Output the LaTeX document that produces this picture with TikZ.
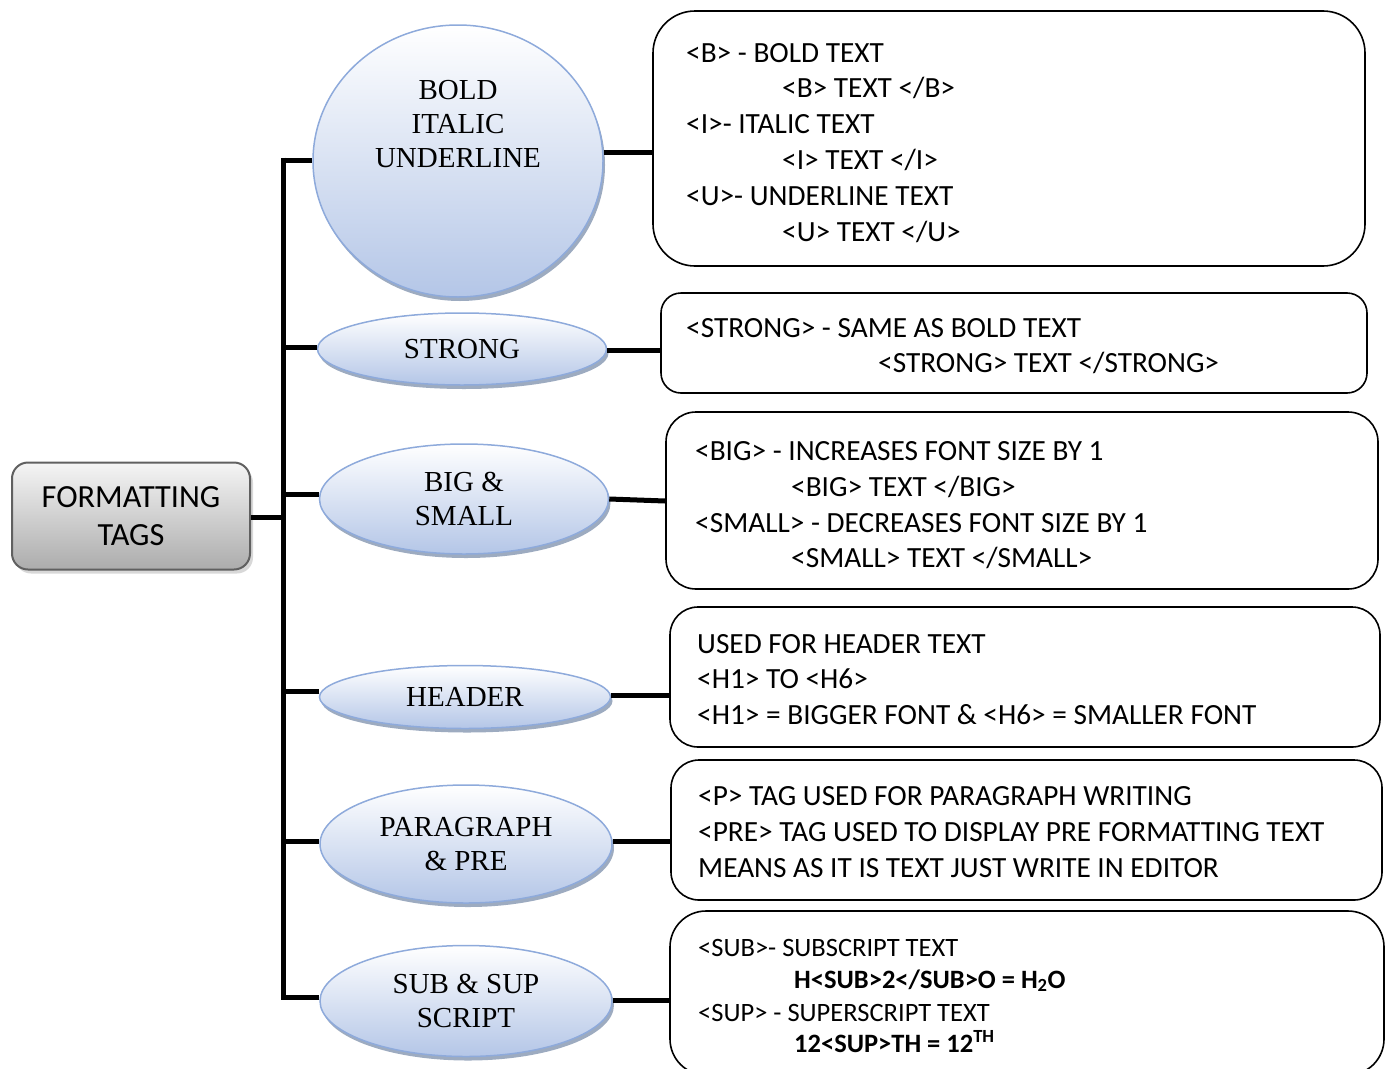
\documentclass[tikz,border=0pt]{standalone}
\usepackage{fontspec}
\setmainfont{Liberation Serif}
\newfontfamily\calfont{Carlito}
\usetikzlibrary{shapes.geometric,shadows}
\definecolor{ellB}{HTML}{B4C6E7}
\definecolor{ellD}{HTML}{8EAADB}
\definecolor{shd}{HTML}{8496B0}
\tikzset{
  ell/.style={ellipse, draw=ellD, line width=1.5pt, top color=white, bottom color=ellB,
    drop shadow={shadow xshift=2pt, shadow yshift=-4pt, fill=shd, opacity=0.8},
    inner sep=0pt, align=center, font=\fontsize{29}{34}\selectfont},
  infobox/.style={draw=black, line width=1.6pt, rounded corners=32pt},
  conn/.style={line width=5pt, draw=black},
  txt/.style={anchor=base west, inner sep=0pt, font=\calfont\fontsize{29.3}{36}\selectfont},
  stxt/.style={anchor=base west, inner sep=0pt, font=\calfont\fontsize{26.5}{32}\selectfont},
  btxt/.style={anchor=base west, inner sep=0pt, font=\calfont\bfseries\fontsize{26.5}{32}\selectfont},
}
\begin{document}
\begin{tikzpicture}[x=1pt,y=-1pt]
\useasboundingbox (0,0) rectangle (1388,1068);
\begin{scope}
\clip (0,0) rectangle (1388,1068);
% root
\node[draw=gray!75!black, line width=2pt, rounded corners=16pt, top color=gray!8, bottom color=gray!65,
  drop shadow={shadow xshift=3pt, shadow yshift=-4pt, fill=gray!60},
  minimum width=238pt, minimum height=107pt, align=center,
  font=\calfont\fontsize{32.3}{38}\selectfont] (root) at (131,516) {FORMATTING\\TAGS};
% ellipses
\node[ell, minimum width=290pt, minimum height=272pt] (e1) at (458,161) {};
\node[align=center, inner sep=0pt, font=\fontsize{29}{34}\selectfont] (e1t) at (458,124) {BOLD\\ITALIC\\UNDERLINE};
\node[ell, minimum width=289pt, minimum height=72pt] (e2) at (462,349) {STRONG};
\node[ell, minimum width=289pt, minimum height=110pt] (e3) at (464,499) {BIG \&\\SMALL};
\node[ell, minimum width=291pt, minimum height=63pt] (e4) at (465,697) {HEADER};
\node[ell, minimum width=292pt, minimum height=118pt] (e5) at (466,844) {PARAGRAPH\\\& PRE};
\node[ell, minimum width=292pt, minimum height=111pt] (e6) at (466,1001) {SUB \& SUP\\SCRIPT};
% boxes
\node[infobox, rounded corners=42pt, minimum width=712pt, minimum height=255pt] (b1) at (1009,138.5) {};
\node[infobox, rounded corners=20pt, minimum width=706pt, minimum height=100pt] (b2) at (1014,343) {};
\node[infobox, rounded corners=30pt, minimum width=712pt, minimum height=177pt] (b3) at (1022,500.5) {};
\node[infobox, rounded corners=28pt, minimum width=710pt, minimum height=140pt] (b4) at (1025,677) {};
\node[infobox, rounded corners=28pt, minimum width=711pt, minimum height=140pt] (b5) at (1026.5,830) {};
\node[infobox, rounded corners=36pt, minimum width=714pt, minimum height=164pt] (b6) at (1027,993) {};
% trunk
\coordinate (tTop) at (283,160);
\coordinate (tBot) at (283,997);
\coordinate (tRoot) at (283,517);
\draw[conn] (283,157.5) -- (283,999.5);
\draw[conn] (root.east |- tRoot) -- (tRoot);
\draw[conn] (tTop) -- (e1.west |- tTop);
\draw[conn] (283,347) -- (e2.west |- 0,347);
\draw[conn] (283,494) -- (e3.west |- 0,494);
\draw[conn] (283,691) -- (e4.west |- 0,691);
\draw[conn] (283,841) -- (e5.west |- 0,841);
\draw[conn] (tBot) -- (e6.west |- tBot);
% ellipse to box
\draw[conn] (e1.east |- 0,152) -- (b1.west |- 0,152);
\draw[conn] (e2.east |- 0,350) -- (b2.west |- 0,350);
\draw[conn] (e3.east |- 0,499) -- (b3.west |- 0,501);
\draw[conn] (e4.east |- 0,695) -- (b4.west |- 0,695);
\draw[conn] (e5.east |- 0,841) -- (b5.west |- 0,841);
\draw[conn] (e6.east |- 0,1000) -- (b6.west |- 0,1000);
% texts box 1
\node[txt] (t11) at (686,62) {<B> - BOLD TEXT};
\node[txt] (t12) at (782,97) {<B> TEXT </B>};
\node[txt] (t13) at (686,133) {<I>- ITALIC TEXT};
\node[txt] (t14) at (782,169) {<I> TEXT </I>};
\node[txt] (t15) at (686,205) {<U>- UNDERLINE TEXT};
\node[txt] (t16) at (782,241) {<U> TEXT </U>};
% box 2
\node[txt] (t21) at (686,337) {<STRONG> - SAME AS BOLD TEXT};
\node[txt] (t22) at (878,372) {<STRONG> TEXT </STRONG>};
% box 3
\node[txt] (t31) at (695,460) {<BIG> - INCREASES FONT SIZE BY 1};
\node[txt] (t32) at (791,496) {<BIG> TEXT </BIG>};
\node[txt] (t33) at (695,532) {<SMALL> - DECREASES FONT SIZE BY 1};
\node[txt] (t34) at (791,567) {<SMALL> TEXT </SMALL>};
% box 4
\node[txt] (t41) at (697,653) {USED FOR HEADER TEXT};
\node[txt] (t42) at (697,688) {<H1> TO <H6>};
\node[txt] (t43) at (697,724) {<H1> = BIGGER FONT \& <H6> = SMALLER FONT};
% box 5
\node[txt] (t51) at (698,805) {<P> TAG USED FOR PARAGRAPH WRITING};
\node[txt] (t52) at (698,841) {<PRE> TAG USED TO DISPLAY PRE FORMATTING TEXT};
\node[txt] (t53) at (698,877) {MEANS AS IT IS TEXT JUST WRITE IN EDITOR};
% box 6
\node[stxt] (t61) at (698,956) {<SUB>- SUBSCRIPT TEXT};
\node[btxt] (t62) at (794,988) {H<SUB>2</SUB>O = H\textsubscript{2}O};
\node[stxt] (t63) at (698,1021) {<SUP> - SUPERSCRIPT TEXT};
\node[btxt] (t64) at (794,1052) {12<SUP>TH = 12\textsuperscript{TH}};
\end{scope}
\end{tikzpicture}
\end{document}
